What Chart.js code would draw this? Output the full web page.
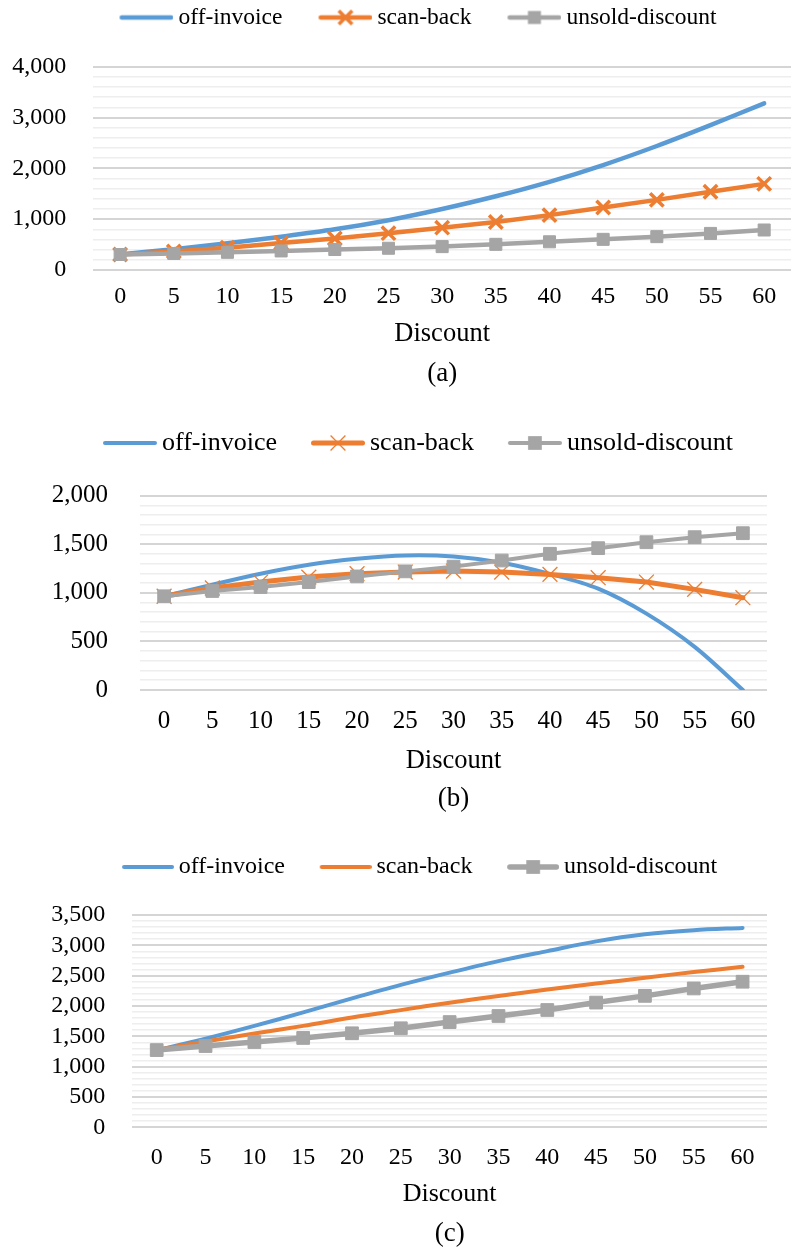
<!DOCTYPE html>
<html>
<head>
<meta charset="utf-8">
<script src="https://cdn.jsdelivr.net/npm/chart.js@4.4.1/dist/chart.umd.min.js"></script>
<style>
  html, body { margin: 0; padding: 0; background: #fff; overflow: hidden; }
  #page { position: relative; width: 795px; height: 1250px; overflow: hidden; background: #fff; }
  #page canvas { position: absolute; left: 0; }
</style>
</head>
<body>
<div id="page">
  <canvas id="chartA"></canvas>
  <canvas id="chartB"></canvas>
  <canvas id="chartC"></canvas>
</div>
<script>
// Discount levels shared by all three panels
const discounts = ['0', '5', '10', '15', '20', '25', '30', '35', '40', '45', '50', '55', '60'];
const seriesNames = ['off-invoice', 'scan-back', 'unsold-discount'];
const axisTitle = 'Discount';
const captions = ['(a)', '(b)', '(c)'];

// Panel (a)
const offInvoiceA = [305, 410, 525, 655, 800, 980, 1200, 1450, 1735, 2065, 2440, 2850, 3280];
const scanBackA   = [305, 365, 440, 530, 620, 725, 833, 945, 1080, 1230, 1380, 1540, 1695];
const unsoldA     = [305, 325, 348, 375, 403, 428, 460, 505, 555, 603, 656, 720, 787];

// Panel (b)
const offInvoiceB = [965, 1084, 1197, 1289, 1350, 1385, 1374, 1310, 1195, 1043, 786, 444, 0];
const scanBackB   = [965, 1050, 1111, 1162, 1197, 1214, 1224, 1214, 1190, 1156, 1111, 1036, 950];
const unsoldB     = [965, 1019, 1060, 1111, 1169, 1221, 1270, 1333, 1402, 1460, 1521, 1573, 1614];

// Panel (c)
const offInvoiceC = [1273, 1462, 1672, 1894, 2126, 2348, 2550, 2740, 2905, 3065, 3182, 3250, 3287];
const scanBackC   = [1273, 1415, 1545, 1672, 1811, 1932, 2055, 2165, 2270, 2370, 2465, 2560, 2645];
const unsoldC     = [1273, 1340, 1406, 1473, 1550, 1633, 1735, 1835, 1934, 2056, 2167, 2289, 2400];

// Value-axis ranges: [max, labelled step, minor step]
const yAxisA = [4000, 1000, 200];
const yAxisB = [2000, 500, 100];
const yAxisC = [3500, 500, 100];

const BLUE = '#5B9BD5', ORANGE = '#ED7D31', GRAY = '#A5A5A5';
const FONT = "'Liberation Serif', 'Times New Roman', serif";
Chart.defaults.font.family = FONT;
Chart.defaults.color = '#000';

// Layout of each panel on the page (pixels)
const panels = [
  {
    id: 'chartA', caption: captions[0], values: [offInvoiceA, scanBackA, unsoldA], yAxis: yAxisA,
    top: 0, plotLeft: 93.3, plotRight: 804, plotTop: 66.7, plotBottom: 270,
    legendY: 17.5, legendCenter: 418, tickPad: 27, tickY: 296.5, titleY: 334, captionY: 374,
    tickFont: 24, legendFont: 23.5, titleFont: 26.5, captionFont: 27,
    sample: { width: 54, gap: 5, spacing: 36 },
    styles: [
      { color: BLUE, width: 4.5, tension: 0.33, marker: null },
      { color: ORANGE, width: 4.5, tension: 0, marker: 'cross', r: 9.5, mw: 3.5 },
      { color: GRAY, width: 4.5, tension: 0, marker: 'square', r: 8.5, mw: 1 }
    ]
  },
  {
    id: 'chartB', caption: captions[1], values: [offInvoiceB, scanBackB, unsoldB], yAxis: yAxisB,
    top: 405, plotLeft: 140, plotRight: 767, plotTop: 495.7, plotBottom: 690,
    legendY: 443, legendCenter: 418, tickPad: 32, tickY: 721, titleY: 761, captionY: 798.5,
    tickFont: 25, legendFont: 26, titleFont: 26.5, captionFont: 27,
    sample: { width: 54, gap: 5, spacing: 34 },
    styles: [
      { color: BLUE, width: 4, tension: 0.33, marker: null },
      { color: ORANGE, width: 5, tension: 0, marker: 'cross', r: 10.5, mw: 1.3 },
      { color: GRAY, width: 4, tension: 0, marker: 'square', r: 9, mw: 1 }
    ]
  },
  {
    id: 'chartC', caption: captions[2], values: [offInvoiceC, scanBackC, unsoldC], yAxis: yAxisC,
    top: 830, plotLeft: 132.3, plotRight: 767, plotTop: 915, plotBottom: 1127.3,
    legendY: 867, legendCenter: 419.5, tickPad: 27, tickY: 1157.5, titleY: 1194.5, captionY: 1233.5,
    tickFont: 24, legendFont: 24, titleFont: 26, captionFont: 27,
    sample: { width: 52, gap: 5, spacing: 34.5 },
    styles: [
      { color: BLUE, width: 4, tension: 0.33, marker: null },
      { color: ORANGE, width: 4, tension: 0.33, marker: null },
      { color: GRAY, width: 5.5, tension: 0, marker: 'square', r: 9, mw: 1 }
    ]
  }
];

// Line-with-marker swatch used as the legend symbol
function legendSwatch(st, imgW, lineW, h) {
  const c = document.createElement('canvas');
  c.width = Math.round(imgW);
  c.height = h;
  const g = c.getContext('2d');
  const y = h / 2, x2 = c.width, x1 = x2 - lineW, cx = (x1 + x2) / 2;
  g.strokeStyle = st.color;
  g.fillStyle = st.color;
  g.lineWidth = st.width;
  g.lineCap = 'round';
  g.beginPath();
  g.moveTo(x1 + st.width / 2, y);
  g.lineTo(x2 - st.width / 2, y);
  g.stroke();
  if (st.marker === 'square') {
    const s = st.r * Math.SQRT2 + st.mw;
    g.fillRect(cx - s / 2, y - s / 2, s, s);
  } else if (st.marker === 'cross') {
    const d = st.r * Math.SQRT1_2;
    g.lineWidth = st.mw;
    g.lineCap = 'butt';
    g.beginPath();
    g.moveTo(cx - d, y - d); g.lineTo(cx + d, y + d);
    g.moveTo(cx + d, y - d); g.lineTo(cx - d, y + d);
    g.stroke();
  }
  return c;
}

// Keeps a fixed gap between the legend and the plot, and centres the legend row
function legendLayout(gapHeight, shift) {
  return {
    id: 'legendLayout',
    beforeInit(chart) {
      const box = {
        position: 'top', weight: 100, fullSize: true, options: {},
        left: 0, top: 0, right: 0, bottom: 0, width: 0, height: 0,
        isHorizontal() { return true; },
        update(maxWidth) { this.width = maxWidth; this.height = gapHeight; },
        draw() {}
      };
      Chart.layouts.addBox(chart, box);
    },
    afterLayout(chart) {
      if (chart.legend) {
        chart.legend.left += shift;
        chart.legend.right += shift;
      }
    }
  };
}

function buildPanel(p) {
  const cv = document.getElementById(p.id);
  const W = 804;
  const padR = W - p.plotRight;
  const padL = 0;
  const fs = p.legendFont;
  const S = p.sample;
  const P = p.legendY - p.top - fs / 2;                  // legend padding
  const boxW = S.spacing + S.width + S.gap - fs / 2 - P;   // legend symbol slot
  const imgW = boxW + fs - 2 * S.gap;
  const lead = boxW + fs / 2 - S.gap - S.width;
  const shift = (p.legendCenter - lead / 2) - (padL + W - padR) / 2;
  const legendBottom = p.top + fs + P + 10;
  const gap = p.plotTop - legendBottom;

  const lhTick = 1.2 * p.tickFont, lhTitle = 1.2 * p.titleFont, lhCap = 1.2 * p.captionFont;
  const xTickPad = p.tickY - p.plotBottom - lhTick / 2;
  const axisBottom = p.titleY + lhTitle / 2;
  const xAxisH = axisBottom - p.plotBottom;
  const capTop = p.captionY - axisBottom - lhCap / 2;
  const H = Math.ceil(axisBottom - p.top + lhCap + capTop + 4);
  const capBottom = H - (axisBottom - p.top) - lhCap - capTop;

  cv.width = W; cv.height = H;
  cv.style.top = p.top + 'px';
  cv.style.width = W + 'px';
  cv.style.height = H + 'px';

  const [yMax, yMajor, yMinor] = p.yAxis;
  const swatches = p.styles.map(st => legendSwatch(st, imgW, S.width, 32));

  const datasets = p.values.map((vals, i) => {
    const st = p.styles[i];
    return {
      label: seriesNames[i],
      data: vals,
      order: p.values.length - i,
      borderColor: st.color,
      backgroundColor: st.color,
      borderWidth: st.width,
      borderCapStyle: 'round',
      borderJoinStyle: 'round',
      tension: st.tension,
      pointStyle: st.marker === 'cross' ? 'crossRot' : 'rect',
      pointRadius: st.marker ? st.r : 0,
      pointHoverRadius: st.marker ? st.r : 0,
      pointBorderWidth: st.marker ? st.mw : 0,
      pointBackgroundColor: st.color,
      pointBorderColor: st.color,
      fill: false
    };
  });

  return new Chart(cv, {
    type: 'line',
    data: { labels: discounts, datasets },
    plugins: [legendLayout(gap, shift)],
    options: {
      responsive: false,
      animation: false,
      devicePixelRatio: 1,
      events: [],
      layout: { padding: { left: padL, right: padR, top: 0, bottom: 0 } },
      scales: {
        x: {
          offset: true,
          grid: { display: false, drawTicks: false },
          border: { display: false },
          ticks: { font: { size: p.tickFont }, padding: xTickPad, maxRotation: 0, autoSkip: false, color: '#000' },
          title: { display: true, text: axisTitle, font: { size: p.titleFont }, padding: 0, color: '#000' },
          afterFit(s) { s.height = xAxisH; }
        },
        y: {
          min: 0, max: yMax,
          grid: {
            drawTicks: false,
            color: c => (c.tick && c.tick.value % yMajor === 0) ? '#d5d5d5' : '#eeeeee',
            lineWidth: c => (c.tick && c.tick.value % yMajor === 0) ? 2 : 1.6
          },
          border: { display: false },
          ticks: {
            stepSize: yMinor, autoSkip: false, padding: p.tickPad,
            font: { size: p.tickFont }, color: '#000',
            callback: v => (v % yMajor === 0) ? v.toLocaleString('en-US') : ''
          },
          afterFit(s) { s.width = p.plotLeft - padL; }
        }
      },
      plugins: {
        tooltip: { enabled: false },
        legend: {
          position: 'top',
          labels: {
            usePointStyle: true,
            pointStyleWidth: boxW,
            padding: P,
            color: '#000',
            font: { size: fs },
            sort: (a, b) => a.datasetIndex - b.datasetIndex,
            generateLabels(chart) {
              const items = Chart.defaults.plugins.legend.labels.generateLabels(chart);
              items.forEach(it => { it.pointStyle = swatches[it.datasetIndex]; });
              return items;
            }
          }
        },
        title: {
          display: true, text: p.caption, position: 'bottom', fullSize: false,
          font: { size: p.captionFont, weight: 'normal' }, color: '#000',
          padding: { top: capTop, bottom: capBottom }
        }
      }
    }
  });
}

panels.forEach(buildPanel);
</script>
</body>
</html>
